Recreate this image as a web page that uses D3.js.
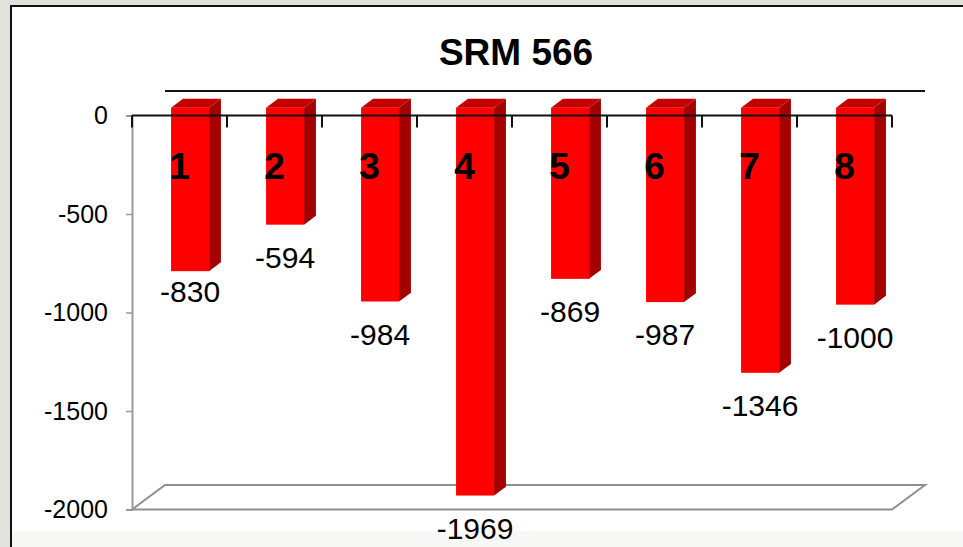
<!DOCTYPE html>
<html>
<head>
<meta charset="utf-8">
<script src="https://cdn.jsdelivr.net/npm/d3@7"></script>
<style>
  body { margin: 0; background: #e3e1db; }
  svg { display: block; font-family: Arial, 'Liberation Sans', sans-serif; }
</style>
</head>
<body>
<div id="chart"></div>
<script>
const title = 'SRM 566';
const categories = ['1', '2', '3', '4', '5', '6', '7', '8'];
const values = [-830, -594, -984, -1969, -869, -987, -1346, -1000];
const tickValues = [0, -500, -1000, -1500, -2000];

const width = 963;
const height = 547;

// 3d depth of the plot (back wall offset) and where the bars sit in it
const depthX = 33;
const depthY = -24.5;
const barFront = 0.32;
const barDepth = 0.36;

const svg = d3.select('#chart').append('svg')
  .attr('width', width)
  .attr('height', height);

// frame
svg.append('rect')
  .attr('x', 11).attr('y', 6)
  .attr('width', width - 11).attr('height', height - 6)
  .attr('fill', '#fff');
svg.append('rect')
  .attr('x', 12).attr('y', 531)
  .attr('width', width - 12).attr('height', height - 531)
  .attr('fill', '#f7f7f5');
svg.append('path')
  .attr('d', `M11,${height}V6H${width}`)
  .attr('fill', 'none')
  .attr('stroke', '#111')
  .attr('stroke-width', 2);

const x = d3.scaleBand()
  .domain(categories)
  .range([132, 892])
  .paddingInner(0.6)
  .paddingOuter(0.3);
const y = d3.scaleLinear()
  .domain([0, -2000])
  .range([115.5, 509.5]);

const left = x.range()[0];
const right = x.range()[1];

svg.append('text')
  .attr('x', 516)
  .attr('y', 65)
  .attr('text-anchor', 'middle')
  .attr('font-size', 37)
  .attr('font-weight', 'bold')
  .text(title);

// back line at 0
svg.append('line')
  .attr('x1', left + depthX).attr('x2', right + depthX)
  .attr('y1', y(0) + depthY).attr('y2', y(0) + depthY)
  .attr('stroke', '#111')
  .attr('stroke-width', 2);

// floor
const yFloor = y(-2000);
svg.append('path')
  .attr('d', `M${left},${yFloor}L${left + depthX},${yFloor + depthY}`
    + `L${right + depthX},${yFloor + depthY}L${right},${yFloor}Z`)
  .attr('fill', 'none')
  .attr('stroke', '#8f8f8f')
  .attr('stroke-width', 2);

// value axis
const yAxis = svg.append('g')
  .attr('transform', `translate(${left},0)`)
  .call(d3.axisLeft(y)
    .tickValues(tickValues)
    .tickFormat(d => String(d))
    .tickSize(6)
    .tickPadding(18));
yAxis.select('.domain').attr('stroke', '#999').attr('stroke-width', 2);
yAxis.selectAll('.tick line').attr('stroke', '#999').attr('stroke-width', 1.5);
yAxis.selectAll('.tick text')
  .attr('font-size', 25)
  .attr('font-family', 'Arial, "Liberation Sans", sans-serif')
  .attr('fill', '#000');

// bars
const fx = barFront * depthX;
const fy = barFront * depthY;
const sx = barDepth * depthX;
const sy = barDepth * depthY;
const bw = x.bandwidth();

const bars = svg.append('g').selectAll('g')
  .data(categories.map((c, i) => ({ cat: c, value: values[i] })))
  .enter().append('g');

bars.append('path')
  .attr('fill', '#a40000')
  .attr('d', (d) => {
    const x1 = x(d.cat) + fx + bw;
    const top = y(0) + fy;
    const bottom = y(d.value) + fy;
    return `M${x1},${top}L${x1 + sx},${top + sy}L${x1 + sx},${bottom + sy}L${x1},${bottom}Z`;
  });
bars.append('path')
  .attr('fill', '#c50000')
  .attr('d', (d) => {
    const x0 = x(d.cat) + fx;
    const top = y(0) + fy;
    return `M${x0},${top}L${x0 + bw},${top}L${x0 + bw + sx},${top + sy}L${x0 + sx},${top + sy}Z`;
  });
bars.append('rect')
  .attr('fill', '#ff0000')
  .attr('x', d => x(d.cat) + fx)
  .attr('y', y(0) + fy)
  .attr('width', bw)
  .attr('height', d => y(d.value) - y(0));

// category axis at 0
const xAxis = svg.append('g');
xAxis.append('line')
  .attr('x1', left).attr('x2', right)
  .attr('y1', y(0)).attr('y2', y(0))
  .attr('stroke', '#111')
  .attr('stroke-width', 2);
xAxis.selectAll('.tick')
  .data(d3.range(categories.length + 1))
  .enter().append('line')
  .attr('x1', i => left + i * x.step())
  .attr('x2', i => left + i * x.step())
  .attr('y1', y(0))
  .attr('y2', y(0) + 12)
  .attr('stroke', '#111')
  .attr('stroke-width', 2);
xAxis.selectAll('text')
  .data(categories)
  .enter().append('text')
  .attr('x', d => x(d) + bw / 2)
  .attr('y', 179)
  .attr('text-anchor', 'middle')
  .attr('font-size', 37)
  .attr('font-weight', 'bold')
  .text(d => d);

// value labels under the bars (first one sits a little closer)
bars.append('text')
  .attr('x', d => x(d.cat) + fx + bw / 2)
  .attr('y', (d, i) => y(d.value) + fy + (i === 0 ? 31 : 43))
  .attr('text-anchor', 'middle')
  .attr('font-size', 30)
  .text(d => d.value);
</script>
</body>
</html>
